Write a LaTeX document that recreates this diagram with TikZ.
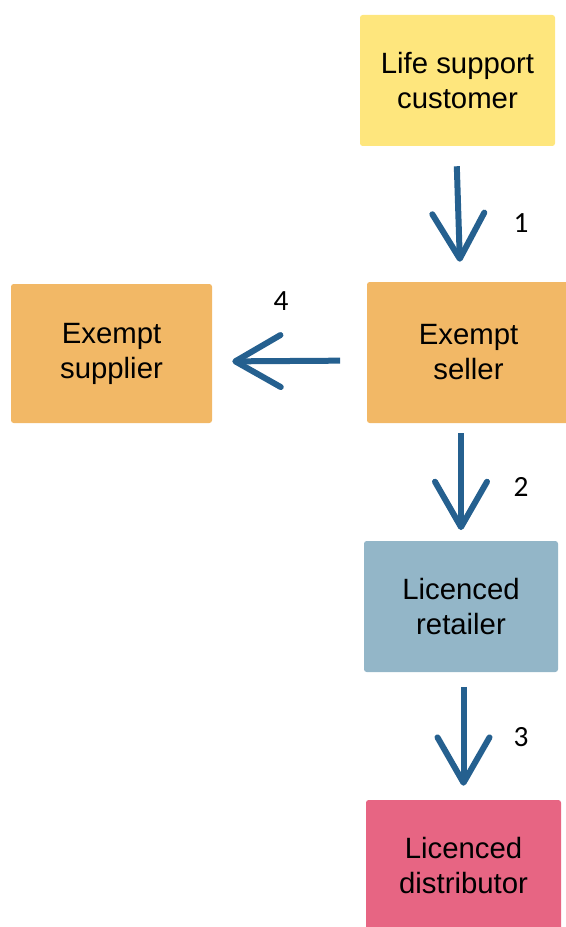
\documentclass[tikz,border=0pt]{standalone}
\usepackage{fontspec}
\setmainfont{Liberation Sans}
\newfontfamily\numfont{Carlito}
\usetikzlibrary{arrows.meta}

\definecolor{custyellow}{HTML}{FEE67D}
\definecolor{exemptorange}{HTML}{F2B866}
\definecolor{retailblue}{HTML}{93B6C8}
\definecolor{distpink}{HTML}{E76583}
\definecolor{flowblue}{HTML}{25608F}

\begin{document}
\begin{tikzpicture}[x=0.75pt, y=-0.75pt,
    box/.style = {rounded corners=2pt, align=center, inner sep=0pt,
                  minimum width=146.25pt, minimum height=98.25pt,
                  font=\fontsize{22}{26.25}\selectfont},
    num/.style = {font=\numfont\fontsize{22}{26}\selectfont},
    flow/.style = {draw=flowblue, line width=4.5pt,
                   -{Straight Barb[length=34pt, width=39pt, line cap=round, line join=round]}}]
    \useasboundingbox (0,0) rectangle (566,927);
    % boxes
    \node[box, fill=custyellow] (cust) at (457.5,80.5) {Life support\\customer};
    \node[box, fill=exemptorange, minimum width=152.25pt, minimum height=105.75pt] (seller) at (468.5,352.5) {Exempt\\seller};
    \node[box, fill=exemptorange, minimum width=150.75pt, minimum height=104.25pt] (supplier) at (111.5,353.5) {Exempt\\supplier};
    \node[box, fill=retailblue, minimum width=145.5pt] (retail) at (461,606.5) {Licenced\\retailer};
    \node[box, fill=distpink] (dist) at (463.5,865.5) {Licenced\\distributor};
    % step numbers
    \node[num] (n1) at (521,223) {1};
    \node[num] (n2) at (521,487) {2};
    \node[num] (n3) at (521,737) {3};
    \node[num] (n4) at (281,301) {4};
    % flows
    \draw[flow, shorten <=15pt, shorten >=15pt] ([xshift=-1pt]cust.south) -- ([xshift=-6pt]seller.north);
    \draw[flow, shorten <=7.5pt, shorten >=8pt] (seller.south -| retail.north) -- (retail.north);
    \draw[flow, shorten <=11pt, shorten >=10.5pt] (retail.south -| dist.north) -- (dist.north);
    \draw[flow, shorten <=20pt, shorten >=15pt] ([yshift=-6pt]seller.west) -- ([yshift=-6pt]supplier.east);
\end{tikzpicture}
\end{document}
